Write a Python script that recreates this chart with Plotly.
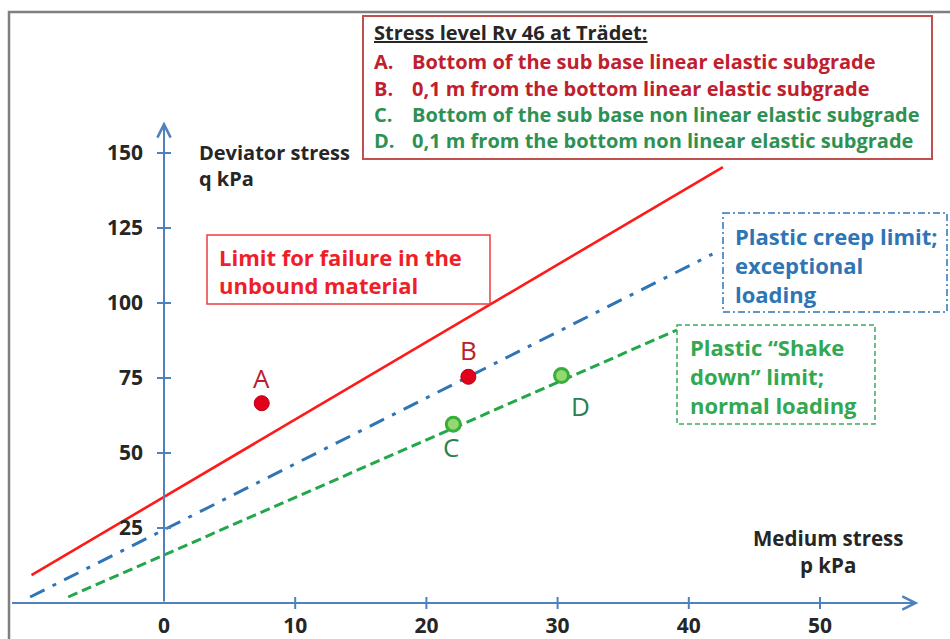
import plotly.graph_objects as go

W, H = 950, 639
FONT = "Open Sans"

# ---- data ----
x_ticks = [0, 10, 20, 30, 40, 50]
x_tick_labels = ["0", "10", "20", "30", "40", "50"]
y_ticks = [25, 50, 75, 100, 125, 150]
y_tick_labels = ["25", "50", "75", "100", "125", "150"]

failure_p = [-10.1, 42.6]
failure_q = [9.3, 145.3]
creep_p = [-10.2, 41.8]
creep_q = [2.0, 116.3]
shake_p = [-7.3, 39.1]
shake_q = [2.0, 91.0]

point_names = ["A", "B", "C", "D"]
point_p = [7.45, 23.2, 22.05, 30.3]
point_q = [66.6, 75.4, 59.6, 75.8]

legend_title = "Stress level Rv 46 at Trädet:"
legend_letters = ["A.", "B.", "C.", "D."]
legend_texts = [
    "Bottom of the sub base linear elastic subgrade",
    "0,1 m from the bottom linear elastic subgrade",
    "Bottom of the sub base non linear elastic subgrade",
    "0,1 m from the bottom non linear elastic subgrade",
]
failure_label = ["Limit for failure in the", "unbound material"]
creep_label = ["Plastic creep limit;", "exceptional", "loading"]
shake_label = ["Plastic \u201cShake", "down\u201d limit;", "normal loading"]
y_title = ["Deviator stress", "q kPa"]
x_title = ["Medium stress", "p kPa"]

# ---- styles ----
AXIS_C = "#4F81BD"
RED = "#FF1A1A"
BLUE = "#2E75B6"
GREEN = "#22A84A"
LEG_RED = "#C0202E"
LEG_GREEN = "#2E9153"
TXT = "#262626"


def P(x):
    return x / W


def Q(y):
    return 1 - y / H


fig = go.Figure()

fig.add_trace(go.Scatter(x=failure_p, y=failure_q, mode="lines",
                         line=dict(color=RED, width=2.6), hoverinfo="skip"))
fig.add_trace(go.Scatter(x=creep_p, y=creep_q, mode="lines",
                         line=dict(color=BLUE, width=3, dash="16px,9px,4px,9px"),
                         hoverinfo="skip"))
fig.add_trace(go.Scatter(x=shake_p, y=shake_q, mode="lines",
                         line=dict(color=GREEN, width=3, dash="10px,5px"),
                         hoverinfo="skip"))

fig.add_trace(go.Scatter(x=point_p[:2], y=point_q[:2], mode="markers",
                         marker=dict(size=15, color="#E3001B",
                                     line=dict(color="#B00012", width=1))))
fig.add_trace(go.Scatter(x=point_p[2:], y=point_q[2:], mode="markers",
                         marker=dict(size=14, color="#93D872",
                                     line=dict(color="#3BAE3A", width=3))))

shapes = []
annotations = []

# outer frame
shapes.append(dict(type="rect", xref="paper", yref="paper",
                   x0=P(9), x1=P(965), y0=Q(12), y1=Q(660),
                   line=dict(color="#7F7F7F", width=2.5)))

# tick marks
for t in x_ticks[1:]:
    shapes.append(dict(type="line", xref="x", yref="y", ysizemode="pixel",
                       yanchor=0, x0=t, x1=t, y0=-6, y1=6,
                       line=dict(color=AXIS_C, width=2)))
for t in y_ticks:
    shapes.append(dict(type="line", xref="x", yref="y", xsizemode="pixel",
                       xanchor=0, y0=t, y1=t, x0=-7, x1=7,
                       line=dict(color=AXIS_C, width=2)))

# axis arrows
annotations.append(dict(x=57.5, y=0, ax=-11.7, ay=0, xref="x", yref="y",
                        axref="x", ayref="y", text="", showarrow=True,
                        arrowhead=5, arrowsize=1.3, arrowwidth=2,
                        arrowcolor=AXIS_C, standoff=0))
annotations.append(dict(x=0, y=160.5, ax=0, ay=0, xref="x", yref="y",
                        axref="x", ayref="y", text="", showarrow=True,
                        arrowhead=5, arrowsize=1.3, arrowwidth=2,
                        arrowcolor=AXIS_C, standoff=0))

# boxes
shapes.append(dict(type="rect", xref="paper", yref="paper",
                   x0=P(363), x1=P(932), y0=Q(16), y1=Q(159),
                   line=dict(color="#C0504D", width=2)))
shapes.append(dict(type="rect", xref="paper", yref="paper",
                   x0=P(207), x1=P(490), y0=Q(235), y1=Q(304),
                   line=dict(color="#F03A40", width=1.5)))
shapes.append(dict(type="rect", xref="paper", yref="paper",
                   x0=P(723), x1=P(947), y0=Q(213), y1=Q(312),
                   line=dict(color=BLUE, width=1.5, dash="7px,3px,2px,3px")))
shapes.append(dict(type="rect", xref="paper", yref="paper",
                   x0=P(677), x1=P(875), y0=Q(325), y1=Q(424),
                   line=dict(color="#3BAA5C", width=1.5, dash="5px,3px")))


def txt(x, y, s, size, color, anchor="left", weight="bold"):
    annotations.append(dict(x=P(x), y=Q(y), xref="paper", yref="paper",
                            text=s, showarrow=False, xanchor=anchor,
                            yanchor="middle",
                            font=dict(family=FONT, size=size, color=color,
                                      weight=weight)))


# legend box text
txt(372, 33, "<u>" + legend_title + "</u>", 20, TXT)
leg_y = [62, 88, 115, 141]
for i, (l, t) in enumerate(zip(legend_letters, legend_texts)):
    c = LEG_RED if i < 2 else LEG_GREEN
    txt(372, leg_y[i], l, 20, c)
    txt(410, leg_y[i], t, 20, c)

for s, y in zip(failure_label, [257, 285]):
    txt(217, y, s, 22, "#F01E28")
for s, y in zip(creep_label, [236, 265, 294]):
    txt(733, y, s, 22, BLUE)
for s, y in zip(shake_label, [347, 376, 405]):
    txt(688, y, s, 22, "#33A852")
for s, y in zip(y_title, [152, 178]):
    txt(197, y, s, 20, TXT)
for s, y in zip(x_title, [538, 565]):
    txt(828, y, s, 20.5, TXT, anchor="center")

# point labels
label_shift = {"A": (0, 25), "B": (0, 27), "C": (-2, -23), "D": (19, -30)}
for n, px, qy in zip(point_names, point_p, point_q):
    c = "#B8202C" if n in ("A", "B") else "#2E8050"
    dx, dy = label_shift[n]
    annotations.append(dict(x=px, y=qy, xref="x", yref="y", text=n,
                            showarrow=False, xshift=dx, yshift=dy,
                            font=dict(family=FONT, size=26, color=c)))

fig.update_layout(
    width=W, height=H,
    margin=dict(l=0, r=0, t=0, b=0),
    paper_bgcolor="white", plot_bgcolor="white",
    showlegend=False,
    shapes=shapes, annotations=annotations,
    xaxis=dict(range=[-164 / 13.12, (W - 164) / 13.12], anchor="free",
               position=Q(603), showgrid=False, zeroline=False,
               showline=False, ticks="", tickvals=x_ticks,
               ticktext=x_tick_labels, ticklabelstandoff=8,
               tickfont=dict(family=FONT, size=21, color=TXT, weight="bold")),
    yaxis=dict(range=[(603 - H) / 3.0, 603 / 3.0], anchor="free",
               position=P(164), showgrid=False, zeroline=False,
               showline=False, ticks="", tickvals=y_ticks,
               ticktext=y_tick_labels, ticklabelstandoff=21,
               tickfont=dict(family=FONT, size=21, color=TXT, weight="bold")),
)

fig.write_html("out.html")
